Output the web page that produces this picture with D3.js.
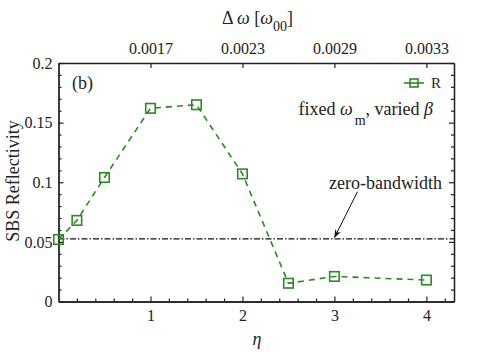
<!DOCTYPE html>
<html lang="en">
<head>
    <meta charset="UTF-8" />
    <title>SBS Reflectivity</title>
    <script src="https://d3js.org/d3.v7.min.js"></script>
    <style>
        body { margin: 0; background: #fff; }
        svg text { font-family: "Liberation Serif", "DejaVu Serif", serif; fill: #222; }
    </style>
</head>
<body>
    <script>
        // data
        var eta = [0, 0.2, 0.5, 1, 1.5, 2, 2.5, 3, 4];
        var reflectivity = [0.052, 0.068, 0.104, 0.162, 0.165, 0.107, 0.0153, 0.021, 0.018];
        var zeroBandwidth = 0.0525;

        // tick labels
        var yTicks = [0, 0.05, 0.1, 0.15, 0.2];
        var xTicks = [1, 2, 3, 4];
        var topTickLabels = ["0.0017", "0.0023", "0.0029", "0.0033"];

        var w = 485, h = 356;
        var plotLeft = 58.5, plotRight = 454, plotTop = 63, plotBottom = 301.5;
        var green = "#2b8a22";

        var svg = d3.select("body").append("svg")
            .attr("width", w)
            .attr("height", h);

        var x = d3.scaleLinear().domain([0, 4.3]).range([plotLeft, plotRight]);
        var y = d3.scaleLinear().domain([0, 0.2]).range([plotBottom, plotTop]);

        // frame + ticks (all pointing inward)
        function styleAxis(g) {
            g.selectAll("path").attr("stroke", "#222").attr("stroke-width", 1.3);
            g.selectAll("line").attr("stroke", "#222").attr("stroke-width", 1.2);
            g.selectAll("text").attr("font-size", 16).attr("font-family", "Liberation Serif").attr("fill", "#222");
        }

        var xMinor = d3.range(0.2, 4.3, 0.2).filter(function (d) { return Math.abs(d - Math.round(d)) > 0.01; });
        var yMinor = d3.range(0.01, 0.2, 0.01).filter(function (d) { return Math.abs(d / 0.05 - Math.round(d / 0.05)) > 0.01; });

        // bottom
        svg.append("g").attr("transform", `translate(0,${plotBottom})`)
            .call(d3.axisBottom(x).tickValues(xMinor).tickFormat("").tickSizeInner(-3).tickSizeOuter(0))
            .call(styleAxis);
        svg.append("g").attr("transform", `translate(0,${plotBottom})`)
            .call(d3.axisBottom(x).tickValues(xTicks).tickFormat(d3.format("d")).tickSizeInner(-5).tickSizeOuter(0).tickPadding(8))
            .call(styleAxis);

        // top
        svg.append("g").attr("transform", `translate(0,${plotTop})`)
            .call(d3.axisTop(x).tickValues(xTicks)
                .tickFormat(function (d, i) { return topTickLabels[i]; })
                .tickSizeInner(-5).tickSizeOuter(0).tickPadding(9))
            .call(styleAxis);

        // left
        svg.append("g").attr("transform", `translate(${plotLeft},0)`)
            .call(d3.axisLeft(y).tickValues(yMinor).tickFormat("").tickSizeInner(-3).tickSizeOuter(0))
            .call(styleAxis);
        svg.append("g").attr("transform", `translate(${plotLeft},0)`)
            .call(d3.axisLeft(y).tickValues(yTicks).tickFormat(function (d) { return String(d); })
                .tickSizeInner(-5).tickSizeOuter(0).tickPadding(6))
            .call(styleAxis);

        // right
        svg.append("g").attr("transform", `translate(${plotRight},0)`)
            .call(d3.axisRight(y).tickValues(yMinor).tickFormat("").tickSizeInner(-3).tickSizeOuter(0))
            .call(styleAxis);
        svg.append("g").attr("transform", `translate(${plotRight},0)`)
            .call(d3.axisRight(y).tickValues(yTicks).tickFormat("").tickSizeInner(-5).tickSizeOuter(0))
            .call(styleAxis);

        // zero-bandwidth reference line
        svg.append("line")
            .attr("x1", x(0)).attr("x2", x(4.3))
            .attr("y1", y(zeroBandwidth)).attr("y2", y(zeroBandwidth))
            .attr("stroke", "#111")
            .attr("stroke-width", 1.3)
            .attr("stroke-dasharray", "6,2,1.5,2");

        // series line
        svg.append("path")
            .datum(eta)
            .attr("fill", "none")
            .attr("stroke", green)
            .attr("stroke-width", 1.6)
            .attr("stroke-dasharray", "6,5")
            .attr("d", d3.line()
                .x(function (d) { return x(d); })
                .y(function (d, i) { return y(reflectivity[i]); }));

        // square markers
        var s = 9.5;
        svg.selectAll(".mark")
            .data(eta)
            .enter()
            .append("rect")
            .attr("class", "mark")
            .attr("x", function (d) { return x(d) - s / 2; })
            .attr("y", function (d, i) { return y(reflectivity[i]) - s / 2; })
            .attr("width", s)
            .attr("height", s)
            .attr("fill", "none")
            .attr("stroke", green)
            .attr("stroke-width", 1.6);

        // legend
        var lx = 404, ly = 83;
        svg.append("line")
            .attr("x1", lx).attr("x2", lx + 20)
            .attr("y1", ly).attr("y2", ly)
            .attr("stroke", green).attr("stroke-width", 1.6);
        svg.append("rect")
            .attr("x", lx + 10 - 4).attr("y", ly - 4)
            .attr("width", 8).attr("height", 8)
            .attr("fill", "none").attr("stroke", green).attr("stroke-width", 1.6);
        svg.append("text")
            .attr("x", lx + 27).attr("y", ly + 5)
            .attr("font-size", 15)
            .text("R");

        // panel tag
        svg.append("text")
            .attr("x", 72).attr("y", 89)
            .attr("font-size", 18)
            .text("(b)");

        // description
        var desc = svg.append("text")
            .attr("x", 433).attr("y", 115)
            .attr("text-anchor", "end")
            .attr("font-size", 18);
        desc.append("tspan").text("fixed ");
        desc.append("tspan").attr("font-style", "italic").text("ω");
        desc.append("tspan").attr("dx", 2).attr("dy", 10).attr("font-size", 14).text("m");
        desc.append("tspan").attr("dy", -10).text(", varied ");
        desc.append("tspan").attr("font-style", "italic").text("β");

        // annotation
        svg.append("text")
            .attr("x", 442).attr("y", 189)
            .attr("text-anchor", "end")
            .attr("font-size", 18)
            .text("zero-bandwidth");

        svg.append("defs").append("marker")
            .attr("id", "arrow")
            .attr("viewBox", "0 0 10 10")
            .attr("refX", 10).attr("refY", 5)
            .attr("markerWidth", 8).attr("markerHeight", 8)
            .attr("orient", "auto")
            .append("path")
            .attr("d", "M0,1 L10,5 L0,9 L3,5 Z")
            .attr("fill", "#111");

        svg.append("line")
            .attr("x1", x(3.25)).attr("y1", y(0.092))
            .attr("x2", x(3.0)).attr("y2", y(0.0535))
            .attr("stroke", "#111")
            .attr("stroke-width", 1)
            .attr("marker-end", "url(#arrow)");

        // axis titles
        svg.append("text")
            .attr("text-anchor", "middle")
            .attr("transform", "rotate(-90)")
            .attr("x", -181)
            .attr("y", 19)
            .attr("font-size", 18)
            .text("SBS Reflectivity");

        svg.append("text")
            .attr("text-anchor", "middle")
            .attr("x", 257)
            .attr("y", 345)
            .attr("font-size", 18)
            .attr("font-style", "italic")
            .text("η");

        var topTitle = svg.append("text")
            .attr("x", 222)
            .attr("y", 24)
            .attr("font-size", 18);
        topTitle.append("tspan").text("Δ ");
        topTitle.append("tspan").attr("font-style", "italic").text("ω");
        topTitle.append("tspan").text(" [");
        topTitle.append("tspan").attr("font-style", "italic").text("ω");
        topTitle.append("tspan").attr("dy", 7).attr("font-size", 14).text("00");
        topTitle.append("tspan").attr("dy", -7).text("]");
    </script>
</body>
</html>
